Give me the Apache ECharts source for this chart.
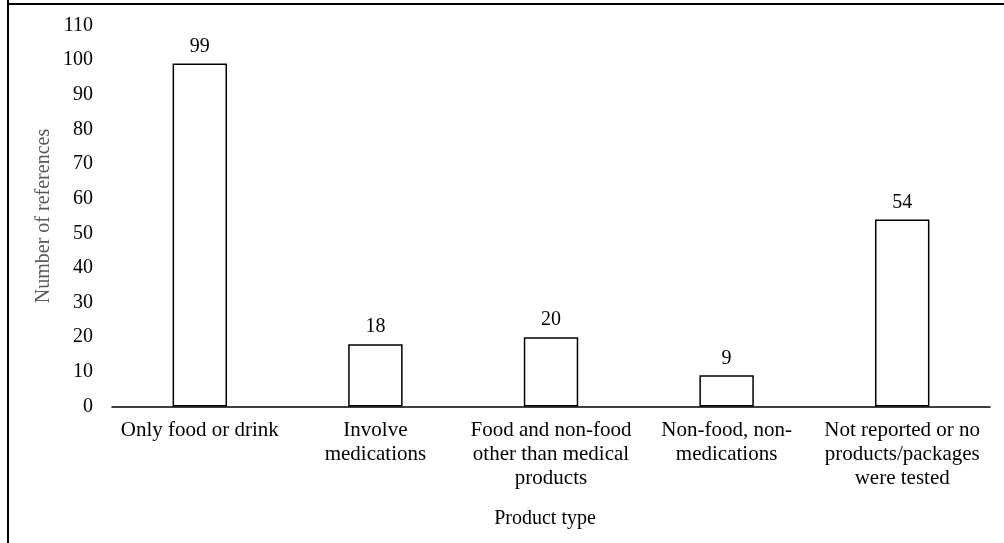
<!DOCTYPE html>
<html><head><meta charset="utf-8">
<script src="https://cdn.jsdelivr.net/npm/echarts@6/dist/echarts.min.js"></script>
<style>html,body{margin:0;padding:0;background:#fff}#c{width:1004px;height:543px}</style>
</head><body><div id="c"></div>
<script>
const categories = ["Only food or drink", "Involve\nmedications", "Food and non-food\nother than medical\nproducts", "Non-food, non-\nmedications", "Not reported or no\nproducts/packages\nwere tested"];
const values = [99, 18, 20, 9, 54];
const yTicks = [0, 10, 20, 30, 40, 50, 60, 70, 80, 90, 100, 110];

const font = "'Liberation Serif', 'Times New Roman', serif";
const fs = 20;
const chart = echarts.init(document.getElementById('c'), null, {renderer: 'canvas'});
chart.setOption({
  animation: false,
  backgroundColor: '#fff',
  textStyle: {fontFamily: font},
  grid: {left: 112, right: 14, top: 25.5, bottom: 136.5},
  graphic: [
    {type: 'line', shape: {x1: 8, y1: 0, x2: 8, y2: 543}, style: {stroke: '#000', lineWidth: 2}},
    {type: 'line', shape: {x1: 7, y1: 4, x2: 1004, y2: 4}, style: {stroke: '#000', lineWidth: 2}}
  ],
  xAxis: {
    type: 'category', data: categories,
    axisLine: {lineStyle: {color: '#000', width: 1.5}},
    axisTick: {show: false},
    axisLabel: {interval: 0, color: '#000', fontSize: 21, fontFamily: font, lineHeight: 24, margin: 12},
    name: 'Product type', nameLocation: 'middle', nameGap: 102,
    nameTextStyle: {color: '#000', fontSize: fs, fontFamily: font, padding: [0, 12, 0, 0]}
  },
  yAxis: {
    type: 'value', min: yTicks[0], max: yTicks[yTicks.length - 1], interval: 10,
    axisLine: {show: false}, axisTick: {show: false}, splitLine: {show: false},
    axisLabel: {color: '#000', fontSize: fs, fontFamily: font, margin: 19},
    name: 'Number of references', nameLocation: 'middle', nameGap: 58, nameMoveOverlap: false,
    nameTextStyle: {color: '#595959', fontSize: fs, fontFamily: font}
  },
  series: [{
    type: 'bar', data: values, barWidth: '31%',
    itemStyle: {color: '#fff', borderColor: '#000', borderWidth: 1.5},
    label: {show: true, position: 'top', distance: 7, color: '#000', fontSize: fs, fontFamily: font}
  }]
});
</script></body></html>
